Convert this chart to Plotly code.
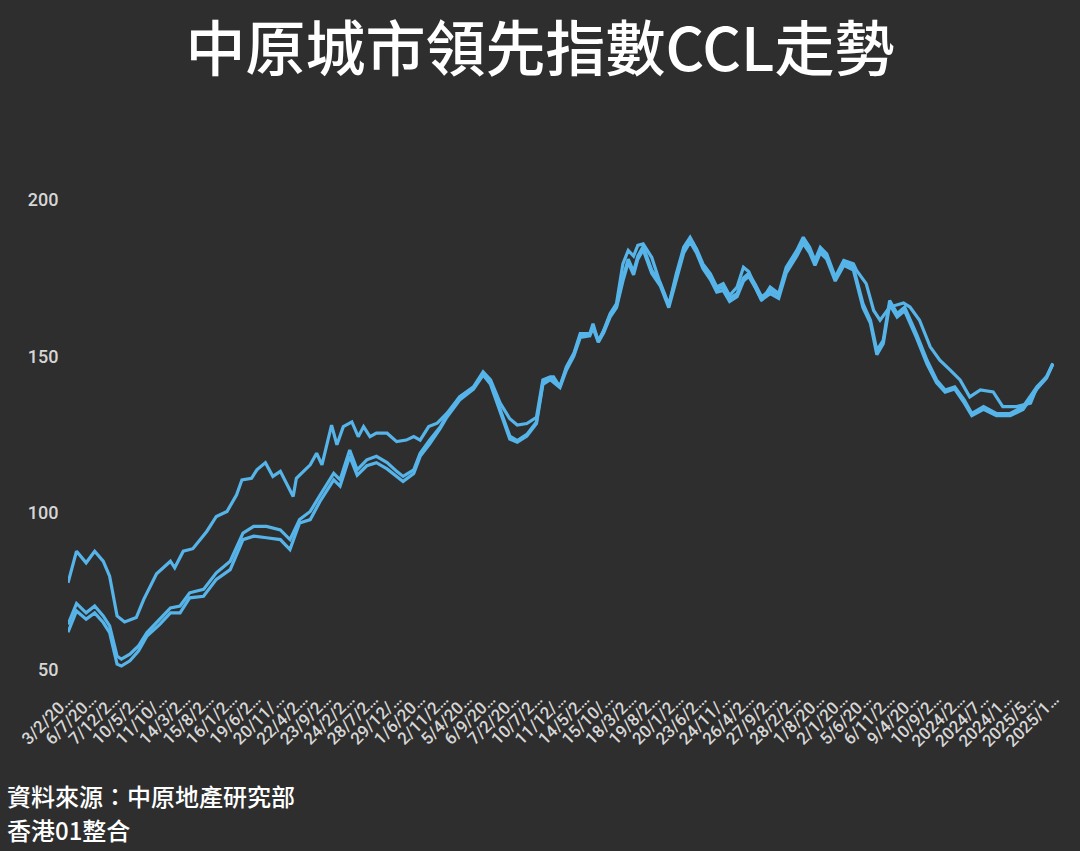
import plotly.graph_objects as go

# ---------------- data ----------------
tick_dates = ["3/2/2008", "6/7/2008", "7/12/2008", "10/5/2009", "11/10/2009", "14/3/2010",
              "15/8/2010", "16/1/2011", "19/6/2011", "20/11/2011", "22/4/2012", "23/9/2012",
              "24/2/2013", "28/7/2013", "29/12/2013", "1/6/2014", "2/11/2014", "5/4/2015",
              "6/9/2015", "7/2/2016", "10/7/2016", "11/12/2016", "14/5/2017", "15/10/2017",
              "18/3/2018", "19/8/2018", "20/1/2019", "23/6/2019", "24/11/2019", "26/4/2020",
              "27/9/2020", "28/2/2021", "1/8/2021", "2/1/2022", "5/6/2022", "6/11/2022",
              "9/4/2023", "10/9/2023", "2024/2/11", "2024/7/14", "2024/12/15", "2025/5/18",
              "2025/10/19"]
weeks_per_tick = 22  # category step between labels (weekly data)

# series A (upper line in 2008-2014): week index -> value
a_weeks = [0, 8, 17, 25, 33, 39, 46, 53, 64, 71, 83, 96, 100, 108, 117, 124, 130, 139, 149, 158,
           163, 172, 177, 185, 192, 199, 208, 211, 214, 227, 233, 238, 247, 252, 258, 266, 272,
           277, 283, 289, 299, 308, 317, 324, 330, 338, 346, 355, 367, 380, 389, 396, 405, 414,
           421, 430, 439, 445, 452, 455, 461, 467, 474, 480, 489, 492, 497, 502, 508, 514, 520,
           525, 530, 534, 539, 547, 555, 563, 570, 577, 583, 589, 595, 602, 608, 614, 620, 627,
           633, 638, 644, 650, 658, 666, 673, 683, 689, 695, 700, 705, 711, 719, 727, 736, 739,
           748, 755, 761, 770, 783, 789, 798, 808, 817, 827, 836, 845, 855, 867, 876, 889, 902,
           908, 917, 923]
a_vals = [77.6, 87.7, 84.0, 87.7, 84.5, 79.7, 67.0, 65.1, 66.5, 72.3, 80.5, 84.5, 82.4, 87.7,
          88.5, 91.4, 94.0, 98.8, 100.4, 105.7, 110.5, 111.0, 113.7, 116.0, 111.6, 113.2, 107.3,
          105.2, 111.0, 115.3, 119.0, 115.3, 128.0, 121.7, 127.5, 129.0, 124.3, 127.5, 124.3,
          125.4, 125.4, 122.7, 123.2, 124.3, 123.2, 127.5, 128.6, 131.7, 137.0, 140.2, 145.0,
          142.4, 135.0, 130.0, 128.0, 128.5, 130.5, 142.4, 143.4, 143.4, 140.2, 146.6, 150.9,
          157.2, 157.2, 160.4, 154.6, 158.3, 163.6, 166.8, 179.5, 183.8, 182.0, 185.4, 185.9,
          181.6, 173.2, 166.2, 176.3, 184.8, 188.0, 184.3, 179.5, 176.3, 172.1, 173.2, 169.4,
          172.1, 178.4, 177.0, 172.1, 167.8, 172.1, 170.0, 178.4, 183.8, 188.0, 184.8, 180.6,
          184.8, 182.7, 175.3, 180.6, 179.5, 177.4, 173.2, 164.6, 161.5, 165.7, 167.0, 165.7,
          161.5, 153.0, 148.7, 145.5, 142.4, 137.0, 139.2, 138.6, 133.9, 133.9, 135.0, 140.0,
          143.4, 147.7]

# series B and C (lower pair in 2008-2014)
bc_weeks = [0, 8, 17, 25, 33, 39, 46, 50, 58, 66, 74, 86, 96, 105, 114, 127, 139, 152, 164, 174,
            186, 199, 208, 217, 227, 236, 249, 255, 264, 271, 280, 289, 299, 308, 314, 324, 330,
            339, 349, 355, 367, 380, 389, 396, 405, 414, 421, 430, 439, 445, 452, 461, 467, 474,
            480, 489, 492, 497, 502, 508, 514, 520, 525, 530, 534, 539, 547, 555, 563, 570, 577,
            583, 589, 595, 602, 608, 614, 620, 627, 633, 638, 644, 650, 658, 666, 673, 683, 689,
            695, 700, 705, 711, 719, 727, 736, 745, 752, 758, 764, 770, 777, 784, 795, 805, 814,
            822, 831, 840, 847, 858, 870, 883, 895, 908, 917, 923]
b_vals = [64.3, 71.0, 68.0, 70.2, 67.0, 63.8, 54.2, 53.2, 54.8, 57.4, 61.7, 66.0, 69.6, 70.2,
          74.4, 75.5, 80.8, 84.5, 93.5, 95.6, 95.6, 94.5, 91.4, 97.8, 100.4, 105.5, 112.6, 110.5,
          120.0, 113.7, 116.9, 118.0, 116.0, 113.2, 111.6, 113.7, 119.0, 123.2, 127.5, 131.0,
          137.0, 140.0, 144.5, 141.5, 133.0, 124.5, 123.0, 125.0, 129.0, 141.5, 143.0, 140.5,
          146.0, 150.5, 156.5, 157.0, 159.5, 155.0, 158.0, 163.0, 166.0, 175.0, 181.0, 177.0,
          182.0, 185.0, 177.5, 173.5, 166.5, 175.5, 184.0, 187.5, 184.0, 179.0, 175.5, 171.5,
          172.0, 168.5, 170.0, 175.0, 176.5, 173.0, 169.0, 171.0, 169.5, 177.5, 183.0, 187.0,
          184.0, 180.0, 184.0, 182.0, 175.0, 180.0, 178.5, 166.8, 161.5, 151.9, 155.1, 167.8,
          163.6, 165.7, 157.2, 148.7, 142.4, 139.2, 140.2, 136.0, 131.7, 133.9, 131.7, 131.7,
          133.9, 140.2, 143.4, 147.7]
c_vals = [61.8, 68.6, 66.0, 68.0, 64.9, 61.7, 51.6, 51.0, 52.7, 55.8, 60.6, 64.3, 68.0, 68.0,
          72.8, 73.3, 78.7, 81.8, 91.4, 92.5, 92.0, 91.4, 88.2, 96.7, 97.8, 103.5, 110.5, 108.5,
          118.0, 112.0, 115.0, 116.0, 114.0, 111.5, 110.0, 112.5, 118.0, 122.0, 127.0, 130.5,
          136.0, 139.5, 144.0, 141.0, 132.0, 123.5, 122.5, 124.5, 128.5, 141.0, 142.5, 140.0,
          145.5, 150.0, 156.0, 156.5, 159.0, 154.5, 157.5, 162.5, 165.5, 174.0, 180.0, 176.0,
          181.0, 184.0, 176.5, 172.5, 165.5, 174.5, 183.0, 186.5, 183.0, 178.0, 174.5, 170.5,
          171.0, 167.5, 169.0, 174.0, 175.5, 172.0, 168.0, 170.0, 168.5, 176.5, 182.0, 186.0,
          183.0, 179.0, 183.0, 181.0, 174.0, 179.0, 177.5, 165.5, 160.5, 150.5, 154.0, 166.5,
          162.5, 164.5, 156.0, 147.5, 141.5, 138.5, 139.5, 135.0, 131.0, 133.0, 131.0, 131.0,
          133.0, 139.5, 143.0, 147.5]

series_names = ["CCL L", "CCL", "CCL Mass"]

# ---------------- style ----------------
BG = "#2e2e2e"
LINE = "#56B4E9"
TICK_COLOR = "#d6d6d6"

tick_text = [d[:6] + "…" if len(d) > 6 else d for d in tick_dates]
tick_vals = [i * weeks_per_tick for i in range(len(tick_dates))]

fig = go.Figure()
for name, xs, ys in [(series_names[0], a_weeks, a_vals),
                     (series_names[1], bc_weeks, b_vals),
                     (series_names[2], bc_weeks, c_vals)]:
    fig.add_trace(go.Scatter(x=xs, y=ys, mode="lines", name=name,
                             line=dict(color=LINE, width=3.2)))

PLOT_TOP, PLOT_BOTTOM = 190, 685
PH = PLOT_BOTTOM - PLOT_TOP

fig.update_layout(
    width=1080, height=851,
    paper_bgcolor=BG, plot_bgcolor=BG,
    showlegend=False,
    margin=dict(l=68, r=26, t=PLOT_TOP, b=851 - PLOT_BOTTOM),
    title=dict(text="中原城市領先指數CCL走勢", x=0.5, xanchor="center",
               y=1 - 50 / 851, yanchor="middle",
               font=dict(family="Noto Sans CJK TC", size=60, color="#ffffff", weight=500)),
    xaxis=dict(range=[0, 924], tickmode="array", tickvals=tick_vals, ticktext=tick_text,
               tickangle=-45, showgrid=False, zeroline=False, showline=False,
               ticks="",
               tickfont=dict(family="Roboto", size=17, color=TICK_COLOR, weight=500)),
    yaxis=dict(range=[44.95, 203.1], tickvals=[50, 100, 150, 200], showgrid=False,
               zeroline=False, showline=False, ticks="outside", ticklen=5, tickcolor=BG,
               tickfont=dict(family="Roboto", size=18, color=TICK_COLOR, weight=500)),
)

fig.add_annotation(text="資料來源：中原地產研究部", xref="paper", yref="paper",
                   x=(5 - 68) / 986, y=(PLOT_BOTTOM - 795) / PH, xanchor="left", yanchor="middle",
                   showarrow=False,
                   font=dict(family="Noto Sans CJK TC", size=24, color="#ffffff", weight=500))
fig.add_annotation(text="香港01整合", xref="paper", yref="paper",
                   x=(5 - 68) / 986, y=(PLOT_BOTTOM - 829) / PH, xanchor="left", yanchor="middle",
                   showarrow=False,
                   font=dict(family="Noto Sans CJK TC", size=24, color="#ffffff", weight=500))

fig.write_html("out.html",
               config={"displayModeBar": False},
               post_script="document.body.style.margin='0';document.body.style.overflow='hidden';")
